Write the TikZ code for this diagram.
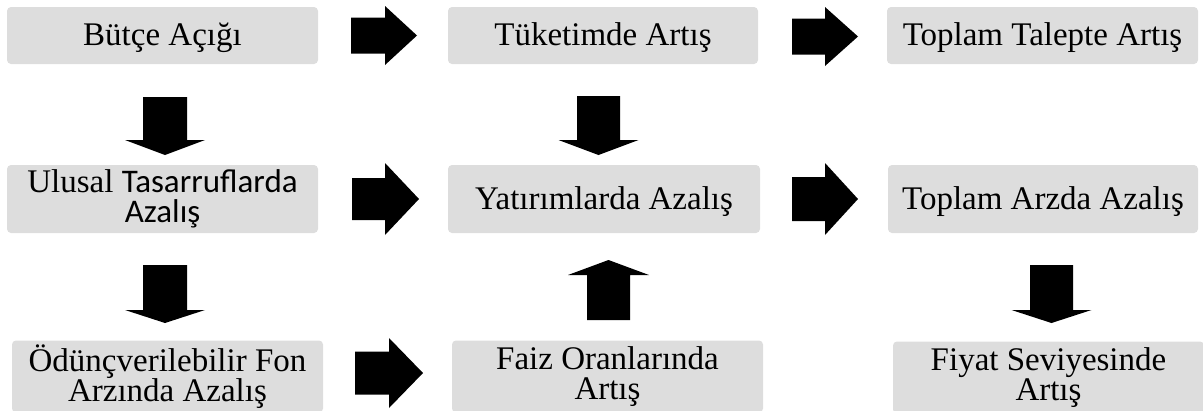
\documentclass[tikz,border=0pt]{standalone}
\usepackage{fontspec}
\setmainfont{Liberation Serif}
\newfontfamily\calib{Carlito}
\definecolor{boxgray}{RGB}{221,221,221}
\newcommand\rarr[6]{\fill[blockarrow] (#1,{#4-#5}) -- (#2,{#4-#5}) -- (#2,{#4-#6}) -- (#3,#4) -- (#2,{#4+#6}) -- (#2,{#4+#5}) -- (#1,{#4+#5}) -- cycle;}
\newcommand\varr[6]{\fill[blockarrow] ({#1-#5},#2) -- ({#1-#5},#3) -- ({#1-#6},#3) -- (#1,#4) -- ({#1+#6},#3) -- ({#1+#5},#3) -- ({#1+#5},#2) -- cycle;}
\tikzset{
  box/.style={fill=boxgray, rounded corners=4pt, inner sep=0pt, align=center,
    font=\fontsize{33}{30.5}\selectfont},
  oneline/.style={text height=23pt, text depth=4pt},
  blockarrow/.style={fill=black}
}
\begin{document}
\begin{tikzpicture}[x=1pt,y=-1pt]
\useasboundingbox (0,0) rectangle (1203,410);
\clip (0,0) rectangle (1203,410);
% row 1
\node[box, oneline, minimum width=311pt, minimum height=57pt] (b11) at (162.5,35.5) {Bütçe Açığı};
\node[box, oneline, minimum width=310pt, minimum height=57pt] (b12) at (603,35.5) {Tüketimde Artış};
\node[box, oneline, minimum width=311pt, minimum height=57pt] (b13) at (1042.5,35.5) {Toplam Talepte Artış};
% row 2
\node[box, minimum width=311pt, minimum height=68pt] (b21) at (162.5,199) {Ulusal {\calib Tasarruflarda}\\{\calib Azalış}};
\node[box, text height=25pt, text depth=4pt, minimum width=312pt, minimum height=68pt] (b22) at (604,199) {Yatırımlarda Azalış};
\node[box, text height=25pt, text depth=4pt, minimum width=310pt, minimum height=68pt] (b23) at (1043,199) {Toplam Arzda Azalış};
% row 3
\node[box, minimum width=311pt, minimum height=72pt] (b31) at (167.5,376.5) {Ödünçverilebilir Fon\\Arzında Azalış};
\node[box, minimum width=311pt, minimum height=72pt] (b32) at (607.5,376.5) {Faiz Oranlarında\\Artış};
\node[box, minimum width=311pt, minimum height=72pt] (b33) at (1048.5,377.5) {Fiyat Seviyesinde\\Artış};
% right arrows
\rarr{351}{385}{417}{35.5}{18}{29.5}
\rarr{792}{825}{858}{36.5}{18}{29.5}
\rarr{352}{385}{419}{199}{21}{36}
\rarr{792}{825}{858}{199}{22}{36}
\rarr{355}{389}{423}{373}{21.5}{35}
% down / up arrows
\varr{165}{97}{140}{155}{22}{40}
\varr{165}{265}{310}{323}{22}{40}
\varr{598.5}{96}{140}{155}{21.5}{40}
\varr{1051.5}{265}{310}{323}{21.5}{40}
\varr{608.5}{320}{275}{260}{21.5}{40.5}
\end{tikzpicture}
\end{document}
